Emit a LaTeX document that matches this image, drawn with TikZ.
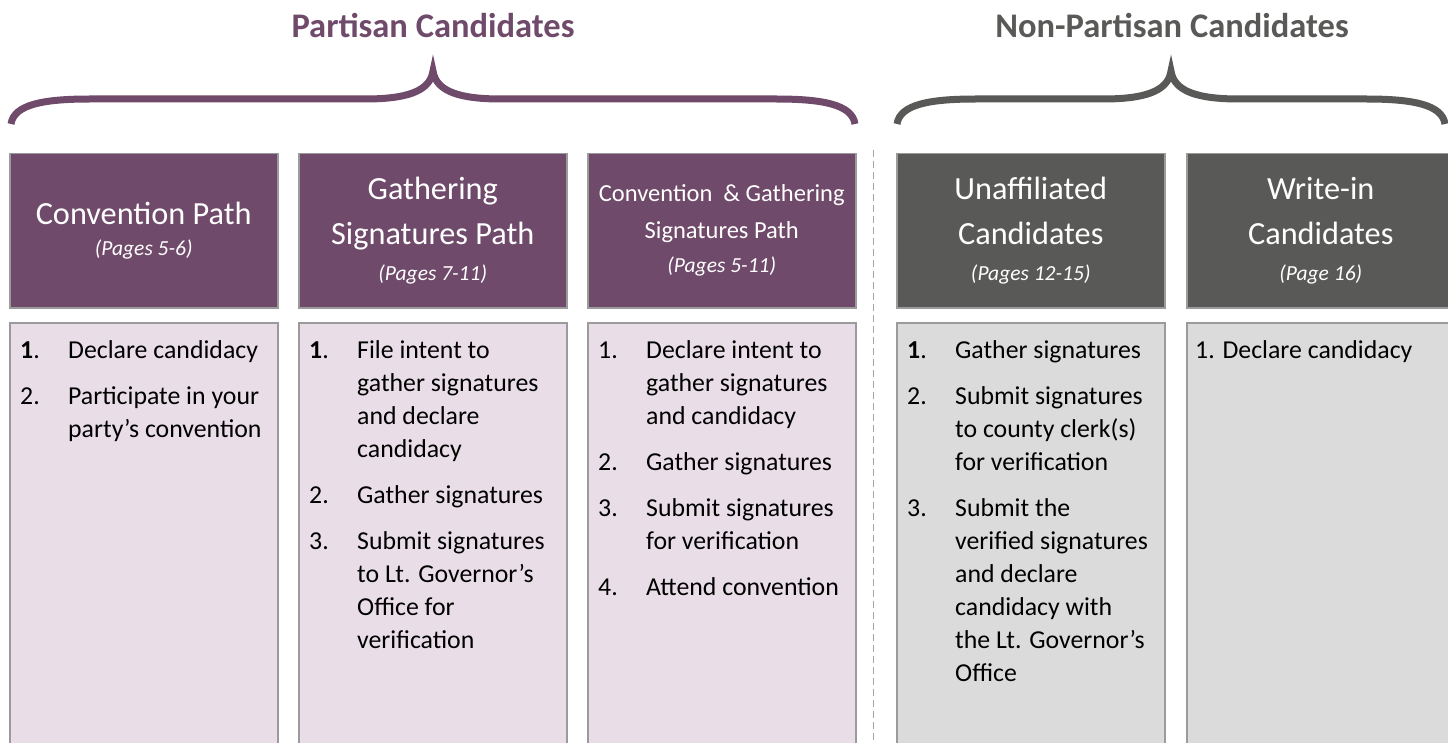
\documentclass[tikz,border=0pt]{standalone}
\usepackage{fontspec}
\setmainfont{Carlito}
\definecolor{purp}{RGB}{112,74,106}
\definecolor{purplight}{RGB}{233,222,231}
\definecolor{darkg}{RGB}{89,89,87}
\definecolor{lightg}{RGB}{219,219,219}
\definecolor{bord}{RGB}{155,155,155}
\definecolor{dashg}{RGB}{165,165,165}
\newcommand{\pg}[1]{{\fontsize{21.5}{25}\selectfont\itshape #1}}
\begin{document}
\begin{tikzpicture}[x=1pt,y=-1pt,
  hdr/.style={draw=bord, line width=1.5pt, minimum width=268pt, minimum height=154pt,
    anchor=north west, text=white, align=center, inner sep=0pt, font=\fontsize{32.3}{45}\selectfont},
  hp/.style={hdr, fill=purp},
  hg/.style={hdr, fill=darkg},
  bodybox/.style={draw=bord, line width=1.5pt, anchor=north west, minimum width=268pt,
    minimum height=440pt, inner sep=0pt},
  bp/.style={bodybox, fill=purplight},
  bg/.style={bodybox, fill=lightg},
  listtxt/.style={anchor=base west, inner sep=0pt, font=\fontsize{25.8}{33}\selectfont, text=black},
  brace/.style={line width=7pt},
  ttl/.style={anchor=base, font=\fontsize{34.5}{40}\selectfont\bfseries}
]
\useasboundingbox (0,0) rectangle (1448,743);
\clip (0,0) rectangle (1448,743);
\fill[white] (0,0) rectangle (1448,743);

% titles
\node[ttl, text=purp] (tp) at (433,38) {Partisan Candidates};
\node[ttl, text=darkg] (tn) at (1172,38) {Non-Partisan Candidates};

% braces
\draw[brace, purp] (11,124) .. controls (14,104) and (45,99) .. (90,99) -- (365,99)
   .. controls (405,99) and (430,92) .. (433,71)
   .. controls (436,92) and (461,99) .. (501,99) -- (776,99)
   .. controls (821,99) and (852,104) .. (855,124);
\draw[brace, darkg] (897,124) .. controls (900,104) and (931,99) .. (976,99) -- (1103,99)
   .. controls (1143,99) and (1168,92) .. (1171,71)
   .. controls (1174,92) and (1199,99) .. (1239,99) -- (1366,99)
   .. controls (1411,99) and (1442,104) .. (1445,124);

% dashed separator
\coordinate (dtop) at (873.5,150);
\coordinate (dbot) at (873.5,750);
\draw[dashg, line width=1.5pt, dash pattern=on 7pt off 4pt] (dtop) -- (dbot);

% headers
\node[hp] (h1) at (9,153) {Convention Path\\[-14pt]\pg{(Pages 5-6)}};
\node[hp] (h2) at (298,153) {Gathering\\Signatures Path\\[-9pt]\pg{(Pages 7-11)}};
\node[hp, font=\fontsize{24.5}{37}\selectfont] (h3) at (587,153) {Convention \ \& Gathering\\Signatures Path\\[-3pt]\pg{(Pages 5-11)}};
\node[hg] (h4) at (896,153) {Unaffiliated\\Candidates\\[-9pt]\pg{(Pages 12-15)}};
\node[hg] (h5) at (1186,153) {Write-in\\Candidates\\[-9pt]\pg{(Page 16)}};

% bodies
\node[bp] (b1) at (9,322) {};
\node[bp] (b2) at (298,322) {};
\node[bp] (b3) at (587,322) {};
\node[bg] (b4) at (896,322) {};
\node[bg] (b5) at (1186,322) {};

% lists
\node[listtxt] (l1) at (20,358) {\begin{tabular}[t]{@{}p{48pt}@{}l@{}}
\textbf{1}. & Declare candidacy\\[13pt]
2. & Participate in your\\
   & party’s convention
\end{tabular}};
\node[listtxt] (l2) at (309,358) {\begin{tabular}[t]{@{}p{48pt}@{}l@{}}
\textbf{1}. & File intent to\\
   & gather signatures\\
   & and declare\\
   & candidacy\\[13pt]
2. & Gather signatures\\[13pt]
3. & Submit signatures\\
   & to Lt. Governor’s\\
   & Office for\\
   & verification
\end{tabular}};
\node[listtxt] (l3) at (598,358) {\begin{tabular}[t]{@{}p{48pt}@{}l@{}}
1. & Declare intent to\\
   & gather signatures\\
   & and candidacy\\[13pt]
2. & Gather signatures\\[13pt]
3. & Submit signatures\\
   & for verification\\[13pt]
4. & Attend convention
\end{tabular}};
\node[listtxt] (l4) at (907,358) {\begin{tabular}[t]{@{}p{48pt}@{}l@{}}
\textbf{1}. & Gather signatures\\[13pt]
2. & Submit signatures\\
   & to county clerk(s)\\
   & for verification\\[13pt]
3. & Submit the\\
   & verified signatures\\
   & and declare\\
   & candidacy with\\
   & the Lt. Governor’s\\
   & Office
\end{tabular}};
\node[listtxt] (l5) at (1195,358) {1. Declare candidacy};
\end{tikzpicture}
\end{document}
